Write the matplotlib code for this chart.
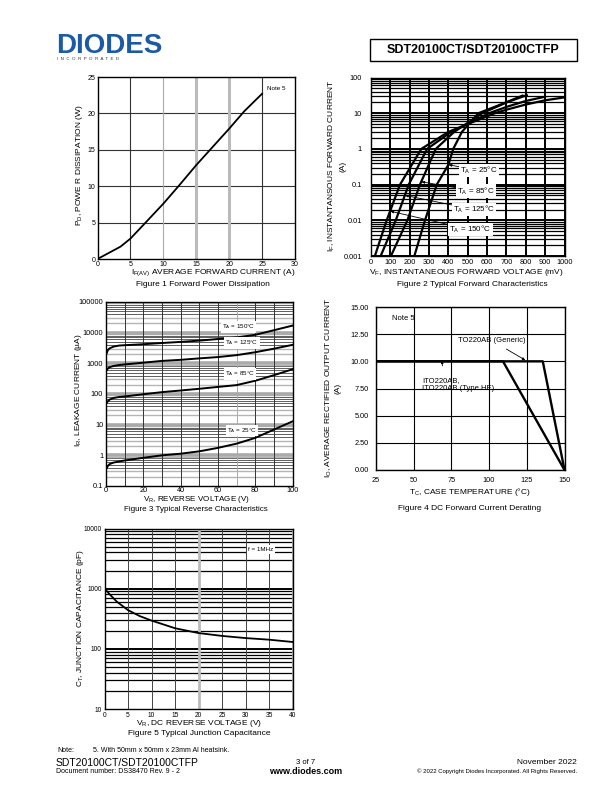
#!/usr/bin/env python3

"""Datasheet page 3 of SDT20100CT/SDT20100CTFP: five typical characteristic charts."""

import numpy as np
import matplotlib.pyplot as plt
from matplotlib.patches import Rectangle

plt.rcParams['font.family'] = ['Liberation Sans', 'DejaVu Sans']
plt.rcParams['mathtext.fontset'] = 'custom'
plt.rcParams['mathtext.rm'] = 'Liberation Sans'
plt.rcParams['mathtext.it'] = 'Liberation Sans:italic'
plt.rcParams['mathtext.bf'] = 'Liberation Sans:bold'
plt.rcParams['mathtext.default'] = 'rm'

# Figure 1 - forward power dissipation
fig1_current = [0, 3.5, 5, 7.3, 10, 12.3, 15, 17.1, 20, 22.3, 25]
fig1_power = [0, 1.7, 2.8, 5.0, 7.6, 10.0, 12.9, 15.0, 17.9, 20.3, 22.7]
fig1_xticks = [0, 5, 10, 15, 20, 25, 30]
fig1_yticks = [0, 5, 10, 15, 20, 25]

# Figure 2 - typical forward characteristics (mV, A)
vf_25 = [224, 279, 340, 400, 425, 470, 555, 676, 783]
if_25 = [0.001, 0.01, 0.1, 0.36, 1, 3, 10, 18, 31]
vf_85 = [103, 188, 253, 335, 430, 575, 700, 805]
if_85 = [0.001, 0.01, 0.1, 1, 3, 10, 20, 32]
vf_125 = [50, 128, 195, 290, 415, 610, 700, 800, 900]
if_125 = [0.001, 0.01, 0.1, 1, 3, 10, 15, 22, 29]
vf_150 = [20, 81, 150, 260, 400, 640, 700, 800, 900, 1000]
if_150 = [0.001, 0.01, 0.1, 1, 3, 10, 12.5, 17.5, 23, 27.7]
fig2_xticks = [0, 100, 200, 300, 400, 500, 600, 700, 800, 900, 1000]
fig2_yticks = [0.001, 0.01, 0.1, 1, 10, 100]
fig2_ylabels = ['0.001', '0.01', '0.1', '1', '10', '100']
fig2_labels = ['25', '85', '125', '150']
fig2_arrow_at = [0.36, 0.12, 0.05, 0.018]
fig2_label_at = [(460, 0.25), (445, 0.066), (425, 0.020), (405, 0.0055)]

# Figure 3 - typical reverse characteristics (V, uA)
vr3 = [0, 1, 2, 4, 7, 10, 20, 30, 40, 50, 60, 70, 80, 90, 100]
ir_150 = [1900, 2700, 3100, 3500, 3800, 3900, 4200, 4600, 5000, 5500, 6200, 7000, 8500, 12000, 17000]
ir_125 = [550, 680, 750, 820, 880, 920, 1050, 1200, 1300, 1450, 1600, 1850, 2300, 3000, 4000]
ir_85 = [48, 58, 66, 74, 80, 83, 98, 115, 130, 148, 170, 195, 270, 410, 640]
ir_25 = [0.35, 0.45, 0.52, 0.58, 0.63, 0.68, 0.83, 1.0, 1.13, 1.35, 1.75, 2.4, 3.7, 6.9, 12.8]
fig3_xticks = [0, 20, 40, 60, 80, 100]
fig3_yticks = [0.1, 1, 10, 100, 1000, 10000, 100000]
fig3_ylabels = ['0.1', '1', '10', '100', '1000', '10000', '100000']
fig3_label_at = [(71, 15500), (73, 4600), (72, 450), (73, 6.5)]

# Figure 4 - DC forward current derating
generic_tc = [25, 135.6, 150]
generic_io = [10, 10, 0]
ito_tc = [25, 109.2, 150]
ito_io = [10, 10, 0]
fig4_xticks = [25, 50, 75, 100, 125, 150]
fig4_yticks = [0, 2.5, 5, 7.5, 10, 12.5, 15]
fig4_ylabels = ['0.00', '2.50', '5.00', '7.50', '10.00', '12.50', '15.00']

# Figure 5 - typical junction capacitance (V, pF)
vr5 = [0, 0.3, 1.2, 2.6, 5, 7.5, 10, 15, 20, 25, 30, 35, 40]
ct = [1100, 950, 790, 610, 440, 350, 295, 220, 183, 164, 151, 142, 130]
fig5_xticks = [0, 5, 10, 15, 20, 25, 30, 35, 40]
fig5_yticks = [10, 100, 1000, 10000]
fig5_ylabels = ['10', '100', '1000', '10000']

W, H = 612, 792
TICK = 5.3
LAB = 6


def rect(x0, y0, x1, y1):
    return [x0 / W, 1 - y1 / H, (x1 - x0) / W, (y1 - y0) / H]


def ftext(x, y, s, **kw):
    kw.setdefault('fontsize', LAB)
    kw.setdefault('ha', 'center')
    kw.setdefault('va', 'center')
    fig.text(x / W, 1 - y / H, s, **kw)


def log_minors(lo, hi):
    out = []
    for d in range(int(np.log10(lo)), int(np.log10(hi))):
        out += [m * 10.0 ** d for m in range(2, 10)]
    return out


def base(ax, xpad=1.5, ypad=2, size=TICK):
    ax.tick_params(length=0, labelsize=size)
    ax.tick_params(axis='x', pad=xpad)
    ax.tick_params(axis='y', pad=ypad)
    for s in ax.spines.values():
        s.set_linewidth(1.0)
        s.set_color('black')


fig = plt.figure(figsize=(6.12, 7.92), dpi=100)

# ---------- header ----------
ftext(56, 46, 'DIODES', fontsize=20, fontweight='bold', color='#1c5aa6',
      ha='left')
ftext(57, 59.5, 'I  N  C  O  R  P  O  R  A  T  E  D', fontsize=3.2,
      color='#333333', ha='left')
fig.patches.append(Rectangle((370 / W, 1 - 61 / H), 207 / W, 22 / H,
                             transform=fig.transFigure, fill=False,
                             edgecolor='black', lw=1.0))
ftext(473.5, 50, 'SDT20100CT/SDT20100CTFP', fontsize=9, fontweight='bold')

# ---------- Figure 1 ----------
ax1 = fig.add_axes(rect(97.5, 77, 295, 259))
base(ax1, xpad=1.2, ypad=1.5, size=5)
ax1.set_xlim(0, 30)
ax1.set_ylim(0, 25)
ax1.set_xticks(fig1_xticks)
ax1.set_yticks(fig1_yticks)
for y in fig1_yticks[1:-1]:
    ax1.axhline(y, color='#333333', lw=0.8, zorder=0)
v_styles = {5: ('#333333', 0.8), 10: ('#aaaaaa', 0.8), 15: ('#bbbbbb', 2.2),
            20: ('#bbbbbb', 2.2), 25: ('#333333', 0.8)}
for x in fig1_xticks[1:-1]:
    c, w = v_styles[x]
    ax1.axvline(x, color=c, lw=w, zorder=0)
ax1.plot(fig1_current, fig1_power, color='black', lw=1.3)
ax1.text(25.8, 23.2, 'Note 5', fontsize=4.5)
ftext(213, 273, r'I$_{F(AV)}$ AVERAGE FORWARD CURRENT (A)')
ftext(203, 285, 'Figure 1 Forward Power Dissipation')
ftext(79, 165, r'P$_D$, POWE R DISSIPATION (W)', rotation=90)

# ---------- Figure 2 ----------
ax2 = fig.add_axes(rect(371, 77.5, 564.5, 256))
base(ax2, xpad=2.5, ypad=6.5)
ax2.set_yscale('log')
ax2.set_xlim(0, 1000)
ax2.set_ylim(0.001, 100)
ax2.set_xticks(fig2_xticks)
ax2.set_yticks(fig2_yticks)
ax2.set_yticklabels(fig2_ylabels)
ax2.set_yticks(log_minors(0.001, 100), minor=True)
ax2.tick_params(which='minor', length=0)
ax2.grid(which='major', color='black', lw=1.4)
ax2.grid(which='minor', axis='y', color='black', lw=0.9)
ax2.set_axisbelow(True)
curves2 = [(vf_25, if_25), (vf_85, if_85), (vf_125, if_125), (vf_150, if_150)]
for (vf, i_f), lab, at, pos in zip(curves2, fig2_labels, fig2_arrow_at, fig2_label_at):
    ax2.plot(vf, i_f, color='black', lw=1.6)
    tip = np.interp(np.log10(at), np.log10(i_f), vf)
    ax2.annotate(r'T$_A$ = ' + lab + '°C', xy=(tip, at), xytext=pos,
                 fontsize=5.8, ha='left', va='center',
                 bbox=dict(boxstyle='square,pad=0.15', fc='white', ec='none'),
                 arrowprops=dict(arrowstyle='-|>,head_length=0.3,head_width=0.12',
                                 color='black', lw=0.6, shrinkA=0, shrinkB=0))
ftext(466, 272, r'V$_F$, INSTANTANEOUS FORWARD VOLTAGE (mV)')
ftext(472, 285, 'Figure 2 Typical Forward Characteristics')
ftext(331.5, 166, r'I$_F$, INSTANTANSOUS FORWARD CURRENT', rotation=90)
ftext(343, 166, '(A)', rotation=90)

# ---------- Figure 3 ----------
ax3 = fig.add_axes(rect(106, 302, 292.5, 486))
base(ax3, xpad=0.6, ypad=2)
ax3.set_yscale('log')
ax3.set_xlim(0, 100)
ax3.set_ylim(0.1, 100000)
ax3.set_xticks(fig3_xticks)
ax3.set_yticks(fig3_yticks)
ax3.set_yticklabels(fig3_ylabels)
ax3.set_yticks([], minor=True)
for y in log_minors(0.1, 100000):
    m = round(y / 10 ** np.floor(np.log10(y) + 1e-9))
    if m in (2, 3, 9):
        ax3.axhline(y, color='#b5b5b5', lw=1.0, zorder=0)
    else:
        ax3.axhline(y, color='#444444', lw=0.6, zorder=0)
for y in fig3_yticks[1:-1]:
    ax3.axhline(y, color='#aaaaaa', lw=2.6, zorder=0)
for x in range(10, 100, 10):
    ax3.axvline(x, color='#aaaaaa' if x == 70 else '#333333', lw=0.7, zorder=0)
for ir, lab, pos in zip([ir_150, ir_125, ir_85, ir_25], ['150', '125', '85', '25'], fig3_label_at):
    ax3.plot(vr3, ir, color='black', lw=1.4)
    ax3.text(pos[0], pos[1], r'T$_A$ = ' + lab + '°C', fontsize=4.5,
             ha='center', va='center',
             bbox=dict(boxstyle='square,pad=0.2', fc='white', ec='none'))
ftext(196, 499.8, r'V$_R$, REVERSE VOLTAGE (V)', fontsize=5.8)
ftext(196, 509.3, 'Figure 3 Typical Reverse Characteristics', fontsize=5.8)
ftext(78.5, 390, r'I$_R$, LEAKAGE CURRENT (µA)', rotation=90)

# ---------- Figure 4 ----------
ax4 = fig.add_axes(rect(376, 307, 564.5, 470))
base(ax4, xpad=5, ypad=5)
ax4.set_xlim(25, 150)
ax4.set_ylim(0, 15)
ax4.set_xticks(fig4_xticks)
ax4.set_yticks(fig4_yticks)
ax4.set_yticklabels(fig4_ylabels)
ax4.grid(color='black', lw=0.8)
ax4.set_axisbelow(True)
ax4.plot(generic_tc, generic_io, color='black', lw=1.7)
ax4.plot(ito_tc, ito_io, color='black', lw=1.7)
ax4.text(35.4, 13.9, 'Note 5', fontsize=5.5, va='center')
ax4.annotate('TO220AB (Generic)', xy=(124.1, 10.1), xytext=(102, 11.9),
             fontsize=5.5, ha='center', va='center',
             arrowprops=dict(arrowstyle='-|>,head_length=0.3,head_width=0.12',
                             color='black', lw=0.6, shrinkA=3, shrinkB=0))
ax4.annotate('ITO220AB,\nITO220AB (Type HE)', xy=(68.7, 10.1), xytext=(55.4, 7.85),
             fontsize=5.5, ha='left', va='center', linespacing=1.3,
             arrowprops=dict(arrowstyle='-|>,head_length=0.3,head_width=0.12',
                             color='black', lw=0.6, shrinkA=6, shrinkB=0,
                             relpos=(0.3, 1.0)))
ftext(470, 491.5, r'T$_C$, CASE TEMPERATURE (°C)')
ftext(470, 508.5, 'Figure 4 DC Forward Current Derating')
ftext(328.5, 388, r'I$_O$, AVERAGE RECTIFIED OUTPUT CURRENT', rotation=90)
ftext(338.5, 388, '(A)', rotation=90)

# ---------- Figure 5 ----------
ax5 = fig.add_axes(rect(104.5, 528.5, 292.5, 709))
base(ax5, xpad=2, ypad=2, size=4.8)
ax5.set_yscale('log')
ax5.set_xlim(0, 40)
ax5.set_ylim(10, 10000)
ax5.set_xticks(fig5_xticks)
ax5.set_yticks(fig5_yticks)
ax5.set_yticklabels(fig5_ylabels)
ax5.set_yticks([], minor=True)
for y in log_minors(10, 10000):
    ax5.axhline(y, color='black', lw=0.9, zorder=0)
for y in fig5_yticks[1:-1]:
    ax5.axhline(y, color='black', lw=1.4, zorder=0)
for x in fig5_xticks[1:]:
    if x in (20, 40):
        ax5.axvline(x, color='#bbbbbb', lw=2.0, zorder=0)
    else:
        ax5.axvline(x, color='#444444', lw=0.7, zorder=0)
ax5.plot(vr5, ct, color='black', lw=1.3)
ax5.text(33.3, 4470, 'f = 1MHz', fontsize=4.5, ha='center', va='center',
         bbox=dict(boxstyle='square,pad=0.25', fc='white', ec='none'))
ftext(199, 723.5, r'V$_R$, DC REVERSE VOLTAGE (V)')
ftext(199, 733.5, 'Figure 5 Typical Junction Capacitance')
ftext(80.5, 618, r'C$_T$, JUNCTION CAPACITANCE (pF)', rotation=90)

# ---------- footer ----------
ftext(57, 751, 'Note:', fontsize=5, ha='left')
ftext(93, 751, '5. With 50mm x 50mm x 23mm Al heatsink.', fontsize=5, ha='left')
ftext(56, 762.5, 'SDT20100CT/SDT20100CTFP', fontsize=7.5, ha='left')
ftext(56, 771.5, 'Document number: DS38470 Rev. 9 - 2', fontsize=5, ha='left')
ftext(306, 762.5, '3 of 7', fontsize=5.5)
ftext(306, 771.5, 'www.diodes.com', fontsize=6.5, fontweight='bold')
ftext(577, 762.5, 'November 2022', fontsize=6, ha='right')
ftext(577, 771.5, '© 2022 Copyright Diodes Incorporated. All Rights Reserved.',
      fontsize=4.3, ha='right')

fig.savefig('out.png', dpi=100)
